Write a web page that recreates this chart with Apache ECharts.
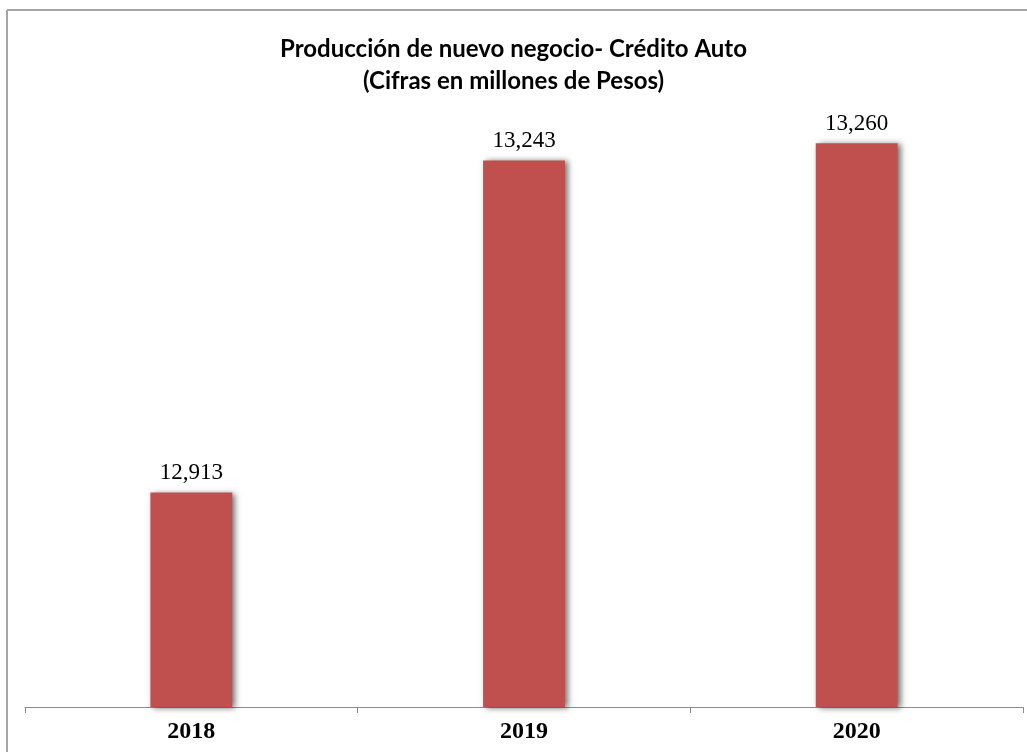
<!DOCTYPE html>
<html>
<head>
<meta charset="utf-8">
<script src="https://cdn.jsdelivr.net/npm/echarts@6/dist/echarts.min.js"></script>
<style>
html,body{margin:0;padding:0;background:#fff;}
#chart{width:1027px;height:752px;}
</style>
</head>
<body>
<div id="chart"></div>
<script>
const categories = ['2018', '2019', '2020'];
const values = [12913, 13243, 13260];
const titleLines = ['Producción de nuevo negocio- Crédito Auto', '(Cifras en millones de Pesos)'];

const chart = echarts.init(document.getElementById('chart'), null, {renderer: 'canvas'});
chart.setOption({
  backgroundColor: '#ffffff',
  animation: false,
  title: {
    text: titleLines.join('\n'),
    left: 'center',
    top: 28,
    textStyle: {
      fontFamily: 'Lato',
      fontWeight: 'bold',
      fontSize: 24,
      lineHeight: 32,
      color: '#000000'
    }
  },
  graphic: [
    {type: 'line', shape: {x1: 7, y1: 10, x2: 1027, y2: 10}, style: {stroke: '#a6a6a6', lineWidth: 2}},
    {type: 'line', shape: {x1: 7, y1: 10, x2: 7, y2: 752}, style: {stroke: '#a6a6a6', lineWidth: 2}}
  ],
  grid: {left: 25, right: 4, top: 103, bottom: 45, containLabel: false},
  xAxis: {
    type: 'category',
    data: categories,
    axisLine: {lineStyle: {color: '#8c8c8c', width: 1}},
    axisTick: {show: true, length: 6, lineStyle: {color: '#8c8c8c'}},
    axisLabel: {
      fontFamily: 'Liberation Serif',
      fontWeight: 'bold',
      fontSize: 24,
      color: '#000000',
      margin: 13
    }
  },
  yAxis: {
    type: 'value',
    min: 12700,
    max: 13300,
    show: false,
    splitLine: {show: false}
  },
  series: [{
    type: 'bar',
    data: values,
    barWidth: '24.6%',
    itemStyle: {
      color: '#C0504D',
      shadowColor: 'rgba(0,0,0,0.55)',
      shadowBlur: 6,
      shadowOffsetX: 3,
      shadowOffsetY: 1
    },
    label: {
      show: true,
      position: 'top',
      distance: 8,
      fontFamily: 'Liberation Serif',
      fontSize: 23,
      color: '#000000',
      formatter: p => p.value.toLocaleString('en-US')
    }
  }]
});
</script>
</body>
</html>
